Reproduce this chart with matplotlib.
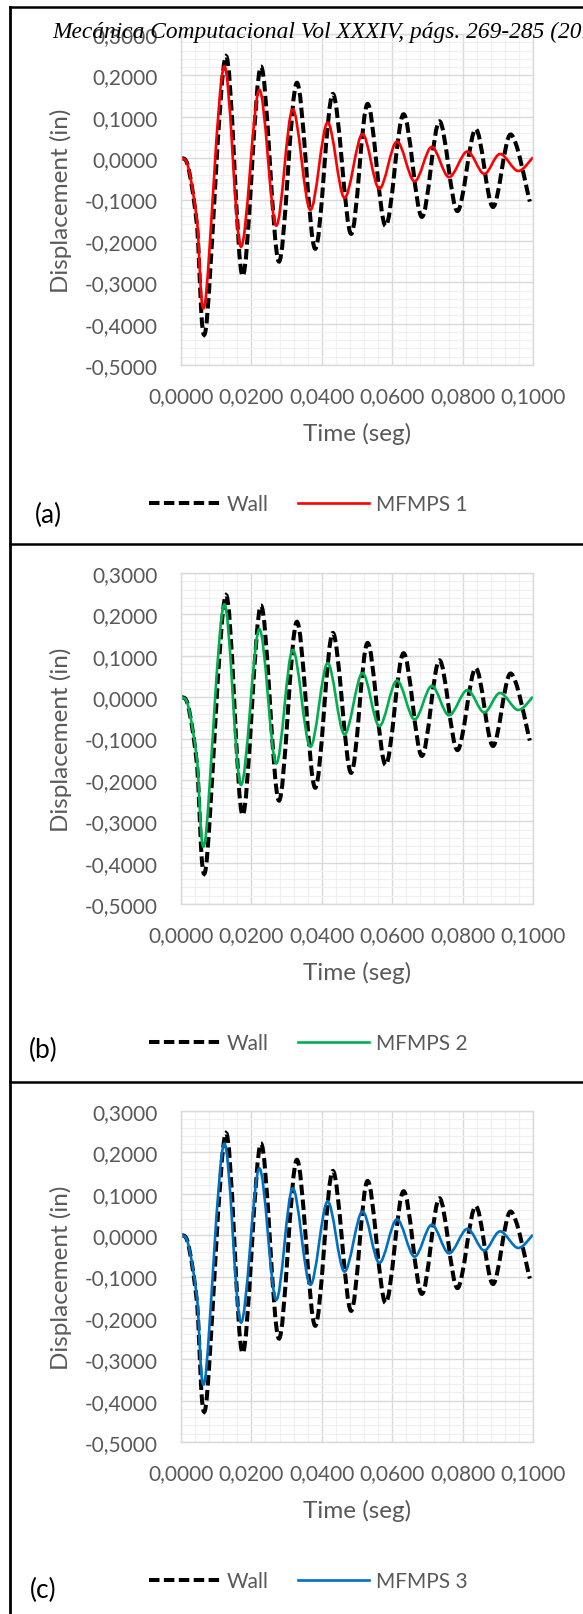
import numpy as np
import matplotlib
matplotlib.use("Agg")
import matplotlib.pyplot as plt
from matplotlib.path import Path
from matplotlib.patches import PathPatch
from matplotlib.lines import Line2D
from matplotlib.ticker import MultipleLocator, FuncFormatter

# data (peaks / valleys of each response)
wall_t = [0.0, 0.0020, 0.0045, 0.0070, 0.0127, 0.0175, 0.0227, 0.0278, 0.0329, 0.0381,
          0.0431, 0.0483, 0.0530, 0.0581, 0.0632, 0.0684, 0.0734, 0.0785, 0.0837,
          0.0886, 0.0936, 0.0991]
wall_v = [0.0, -0.020, -0.160, -0.416, 0.246, -0.285, 0.221, -0.250, 0.182, -0.219,
          0.155, -0.183, 0.131, -0.164, 0.106, -0.142, 0.089, -0.128, 0.070,
          -0.118, 0.057, -0.105]

mfmps_t = [0.0, 0.0020, 0.0045, 0.0068, 0.0122, 0.0170, 0.0222, 0.0270, 0.0317, 0.0367,
           0.0416, 0.0464, 0.0515, 0.0563, 0.0613, 0.0663, 0.0712, 0.0761, 0.0813,
           0.0861, 0.0906, 0.0957, 0.1000]
mfmps1_v = [0.0, -0.020, -0.148, -0.352, 0.221, -0.214, 0.165, -0.163, 0.118, -0.125,
            0.086, -0.096, 0.058, -0.074, 0.040, -0.056, 0.027, -0.046, 0.016,
            -0.038, 0.010, -0.031, 0.002]
mfmps2_v = [0.0, -0.020, -0.148, -0.350, 0.223, -0.212, 0.164, -0.160, 0.114, -0.120,
            0.082, -0.090, 0.058, -0.070, 0.040, -0.054, 0.027, -0.044, 0.017,
            -0.037, 0.010, -0.031, 0.001]
mfmps3_v = [0.0, -0.020, -0.148, -0.350, 0.220, -0.211, 0.161, -0.156, 0.113, -0.120,
            0.081, -0.088, 0.057, -0.067, 0.038, -0.052, 0.025, -0.044, 0.015,
            -0.037, 0.009, -0.031, 0.001]

series_names = ["MFMPS 1", "MFMPS 2", "MFMPS 3"]
series_values = [mfmps1_v, mfmps2_v, mfmps3_v]
series_colors = ["#ff0000", "#00b050", "#0070c0"]
panel_tags = ["(a)", "(b)", "(c)"]

W, H = 583, 1615
GRAY = "#595959"
plt.rcParams["font.family"] = ["Lato", "DejaVu Sans"]


def smooth_path(t, v):
    # Excel style smoothed line: Catmull-Rom segments as cubic Beziers
    pts = np.column_stack([t, v])
    n = len(pts)
    verts = [pts[0]]
    codes = [Path.MOVETO]
    for i in range(n - 1):
        p0 = pts[i - 1] if i > 0 else pts[i]
        p1 = pts[i]
        p2 = pts[i + 1]
        p3 = pts[i + 2] if i + 2 < n else pts[i + 1]
        verts += [p1 + (p2 - p0) / 6, p2 - (p3 - p1) / 6, p2]
        codes += [Path.CURVE4] * 3
    return Path(verts, codes)


def fmt(val, pos):
    return f"{val:.4f}".replace(".", ",")


def fx(px):
    return px / W


def fy(py):
    return 1 - py / H


fig = plt.figure(figsize=(W / 100, H / 100), dpi=100)

wall_style = dict(color="black", linewidth=2.9, linestyle=(0, (2.6, 1.1)))
plot_tops = [35, 574, 1112]
tag_pos = [(48, 515), (43, 1050), (43, 1590)]

for k in range(3):
    top = plot_tops[k]
    ax = fig.add_axes([fx(181), fy(top + 331), fx(533) - fx(181), 331 / H])
    ax.set_xlim(0, 0.1)
    ax.set_ylim(-0.5, 0.3)
    ax.xaxis.set_major_locator(MultipleLocator(0.02))
    ax.xaxis.set_minor_locator(MultipleLocator(0.004))
    ax.yaxis.set_major_locator(MultipleLocator(0.1))
    ax.yaxis.set_minor_locator(MultipleLocator(0.02))
    ax.xaxis.set_major_formatter(FuncFormatter(fmt))
    ax.yaxis.set_major_formatter(FuncFormatter(fmt))
    ax.grid(which="minor", color="#f0f0f0", linewidth=0.9)
    ax.grid(which="major", color="#d9d9d9", linewidth=1.0)
    ax.set_axisbelow(True)
    for s in ax.spines.values():
        s.set_color("#d9d9d9")
        s.set_linewidth(1.0)
    ax.tick_params(which="both", length=0, labelsize=15, labelcolor=GRAY)
    ax.tick_params(axis="y", pad=17)
    ax.tick_params(axis="x", pad=15)

    ax.add_patch(PathPatch(smooth_path(wall_t, wall_v), fill=False, **wall_style))
    ax.add_patch(PathPatch(smooth_path(mfmps_t, series_values[k]), fill=False,
                           color=series_colors[k], linewidth=1.9))

    ax.set_xlabel("Time (seg)", fontsize=17.5, color=GRAY, va="center")
    ax.xaxis.set_label_coords(0.5, -68 / 331)
    ax.set_ylabel("Displacement (in)", fontsize=17.5, color=GRAY, va="center")
    ax.yaxis.set_label_coords(-120 / 352, 0.5)

    handles = [Line2D([], [], **wall_style),
               Line2D([], [], color=series_colors[k], linewidth=1.9)]
    ax.legend(handles, ["Wall", series_names[k]], ncol=2, frameon=False,
              loc="center left", bbox_to_anchor=(-32 / 352, -139 / 331),
              fontsize=15, labelcolor=GRAY, handlelength=3.4, handletextpad=0.35,
              columnspacing=1.4, borderpad=0, borderaxespad=0)

    fig.text(fx(tag_pos[k][0]), fy(tag_pos[k][1]), panel_tags[k], fontsize=19,
             ha="center", va="center", color="black")

# panel frames
for py in [8, 545, 1083]:
    fig.add_artist(Line2D([fx(10), 1.0], [fy(py), fy(py)], color="black", linewidth=1.8))
fig.add_artist(Line2D([fx(10), fx(10)], [fy(8), 0.0], color="black", linewidth=2.0))

fig.text(fx(52), fy(38), "Mecánica Computacional Vol XXXIV, págs. 269-285 (2015)",
         family="Liberation Serif", style="italic", fontsize=16.8, color="black",
         ha="left", va="baseline")

fig.savefig("out.png", dpi=100)
